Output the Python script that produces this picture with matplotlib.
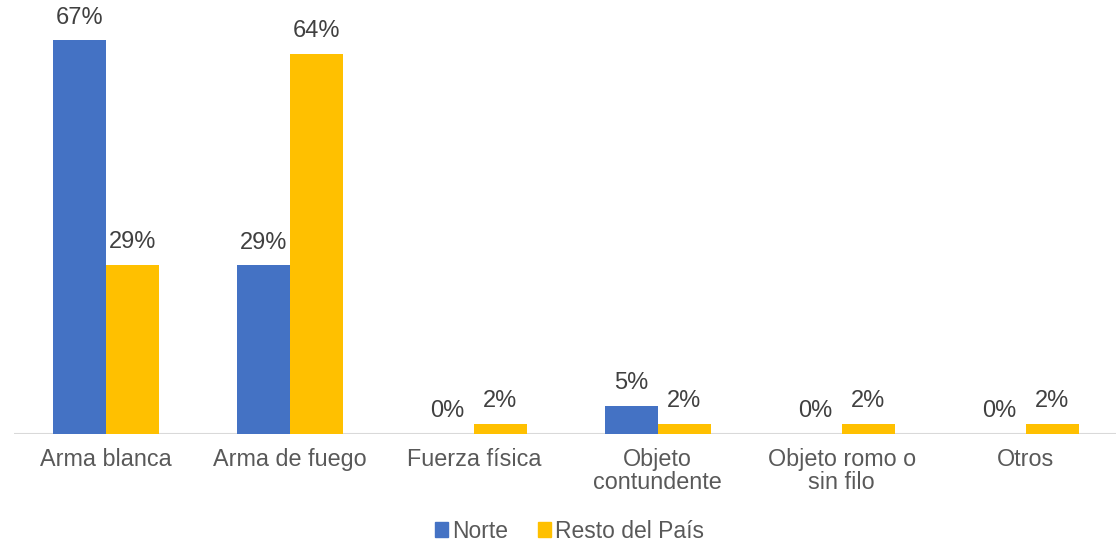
import numpy as np
import matplotlib
matplotlib.use("Agg")
import matplotlib.pyplot as plt
from matplotlib.patches import Patch

plt.rcParams['font.family'] = ['Liberation Sans', 'DejaVu Sans']

categorias = ["Arma blanca", "Arma de fuego", "Fuerza física",
              "Objeto\ncontundente", "Objeto romo o\nsin filo", "Otros"]
norte = [66.7, 28.6, 0, 4.8, 0, 0]
resto = [28.7, 64.4, 1.7, 1.7, 1.7, 1.7]
series = ["Norte", "Resto del País"]
colores = ["#4472C4", "#FFC000"]

fig = plt.figure(figsize=(11.16, 5.42), dpi=100)
ax = fig.add_axes([0.0125, 0.1993, 0.989, 0.762])

x = np.arange(len(categorias))
w = 0.288
for vals, off, col in [(norte, -w / 2, colores[0]), (resto, w / 2, colores[1])]:
    bars = ax.bar(x + off, vals, w, color=col)
    for b, v in zip(bars, vals):
        ax.annotate(f"{v:.0f}%", (b.get_x() + b.get_width() / 2, v),
                    xytext=(0, 12), textcoords="offset points",
                    ha="center", va="baseline", fontsize=17, color="#404040")

ax.set_xlim(-0.5, len(categorias) - 0.5)
ax.set_ylim(0, 70)
ax.axhline(0, color="#D9D9D9", lw=1.5, zorder=0)
for s in ax.spines.values():
    s.set_visible(False)
ax.set_yticks([])
ax.set_xticks(x)
ax.set_xticklabels(categorias, fontsize=16.8, color="#595959", linespacing=1.0)
ax.tick_params(axis="x", length=0, pad=10)

handles = [Patch(color=c, label=s) for c, s in zip(colores, series)]
fig.legend(handles=handles, loc="center", bbox_to_anchor=(0.51, 0.02), ncol=2,
           frameon=False, fontsize=16.5, labelcolor="#595959",
           handlelength=0.6, handleheight=0.6, handletextpad=0.15, columnspacing=1.3)

fig.savefig("out.png", dpi=100)
